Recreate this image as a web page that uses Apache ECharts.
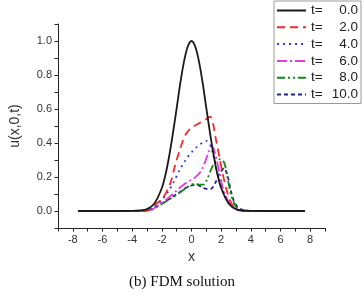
<!DOCTYPE html>
<html>
<head>
<meta charset="utf-8">
<script src="https://cdn.jsdelivr.net/npm/echarts@6/dist/echarts.min.js"></script>
<style>
html, body { margin: 0; padding: 0; background: #fff; }
#chart { width: 364px; height: 296px; }
</style>
</head>
<body>
<div id="chart"></div>
<script>
// values, [x, u] pairs
var t0 = [[-7.65,0],[-5,0],[-4,0.0005],[-3.5,0.003],[-3,0.011],[-2.5,0.044],[-2,0.135],[-1.75,0.215],[-1.5,0.325],
  [-1.25,0.458],[-1,0.605],[-0.75,0.755],[-0.5,0.882],[-0.25,0.968],[0,1.0],[0.25,0.968],[0.5,0.882],[0.75,0.755],
  [1,0.605],[1.25,0.458],[1.5,0.325],[1.75,0.215],[2,0.135],[2.5,0.044],[3,0.011],[3.5,0.003],[4,0.0005],[5,0],[7.65,0]];
var t2 = [[-7.65,0],[-4,0],[-3.2,0.003],[-2.8,0.008],[-2.4,0.04],[-2.0,0.07],[-1.7,0.11],[-1.4,0.17],[-1.1,0.27],
  [-0.75,0.37],[-0.4,0.45],[0,0.49],[0.4,0.51],[0.9,0.535],[1.25,0.555],[1.45,0.515],[1.65,0.42],[1.9,0.31],
  [2.1,0.22],[2.35,0.13],[2.6,0.06],[2.9,0.02],[3.3,0.003],[4,0],[7.65,0]];
var t4 = [[-7.65,0],[-4,0],[-3.2,0.002],[-2.8,0.006],[-2.4,0.03],[-2.0,0.065],[-1.6,0.11],[-1.2,0.17],[-0.8,0.24],
  [-0.4,0.30],[0,0.345],[0.4,0.38],[0.8,0.405],[1.0,0.412],[1.25,0.39],[1.45,0.335],[1.7,0.24],[1.95,0.16],
  [2.2,0.10],[2.5,0.05],[2.8,0.02],[3.1,0.006],[3.5,0.001],[4.2,0],[7.65,0]];
var t6 = [[-7.65,0],[-4,0],[-3.0,0.003],[-2.6,0.012],[-2.2,0.035],[-1.8,0.06],[-1.4,0.09],[-1.0,0.12],[-0.6,0.15],
  [-0.2,0.175],[0.2,0.195],[0.6,0.23],[0.9,0.285],[1.15,0.345],[1.35,0.38],[1.5,0.365],[1.7,0.30],[1.9,0.22],
  [2.1,0.14],[2.35,0.08],[2.6,0.04],[2.9,0.013],[3.3,0.002],[4.2,0],[7.65,0]];
var t8 = [[-7.65,0],[-4,0],[-3.0,0.003],[-2.6,0.01],[-2.2,0.03],[-1.8,0.052],[-1.4,0.073],[-1.0,0.095],[-0.6,0.12],
  [-0.2,0.145],[0.2,0.16],[0.5,0.155],[0.8,0.155],[1.05,0.185],[1.3,0.24],[1.6,0.29],[1.95,0.305],[2.2,0.285],
  [2.4,0.21],[2.6,0.12],[2.8,0.06],[3.0,0.025],[3.4,0.005],[4.2,0],[7.65,0]];
var t10 = [[-7.65,0],[-4,0],[-3.2,0.003],[-2.8,0.01],[-2.4,0.025],[-2.0,0.045],[-1.6,0.065],[-1.2,0.088],[-0.8,0.11],
  [-0.4,0.135],[0,0.15],[0.35,0.155],[0.7,0.14],[1.0,0.13],[1.3,0.13],[1.6,0.165],[1.9,0.22],[2.2,0.252],
  [2.45,0.2],[2.65,0.12],[2.85,0.06],[3.1,0.025],[3.5,0.005],[4.2,0],[7.65,0]];

var names = ['0.0', '2.0', '4.0', '6.0', '8.0', '10.0'];
var curves = [t0, t2, t4, t6, t8, t10];
var colors = ['#1a1a1a', '#f22a2a', '#3c3ce6', '#e03ce0', '#138a13', '#23238f'];
var dashes = ['solid', [8, 5], [2, 4], [10, 3, 2, 3], [8, 3, 2, 3, 2, 3], [4, 3]];

var chart = echarts.init(document.getElementById('chart'));

var series = [];
for (var i = 0; i < curves.length; i++) {
	series.push({
		name: 't=' + names[i],
		type: 'line',
		data: curves[i],
		smooth: 0.3,
		symbol: 'none',
		z: 10 - i,
		lineStyle: { color: colors[i], width: 1.8, type: dashes[i] },
		itemStyle: { color: colors[i] }
	});
}

chart.setOption({
	animation: false,
	textStyle: { fontFamily: 'Liberation Sans' },
	grid: { left: 53, right: 39, top: 24, bottom: 68, containLabel: false },
	legend: {
		right: 3, top: 1,
		orient: 'vertical',
		itemWidth: 29, itemHeight: 14, itemGap: 2.8,
		padding: [2.5, 3, 2, 2],
		borderColor: '#999', borderWidth: 1,
		itemStyle: { opacity: 0, color: 'rgba(0,0,0,0)', borderWidth: 0 },
		formatter: function (n) {
			return '{a|t=}{b|' + n.slice(2) + '}';
		},
		textStyle: {
			rich: {
				a: { fontSize: 13.5, color: '#222', width: 13, fontFamily: 'Liberation Sans' },
				b: { fontSize: 13.5, color: '#222', width: 34, align: 'right', fontFamily: 'Liberation Sans' }
			}
		},
		data: names.map(function (n) { return 't=' + n; })
	},
	xAxis: {
		type: 'value', min: -9, max: 9, interval: 1,
		name: 'x', nameLocation: 'middle', nameGap: 22,
		nameTextStyle: { fontSize: 14, color: '#333', fontFamily: 'Liberation Sans' },
		axisLine: { onZero: false, lineStyle: { color: '#222', width: 1 } },
		axisTick: { inside: false, length: 3.5, lineStyle: { color: '#222' } },
		axisLabel: {
			fontSize: 11, color: '#333', margin: 6,
			formatter: function (v) { return Math.round(v) % 2 === 0 ? String(Math.round(v)) : ''; }
		},
		splitLine: { show: false }
	},
	yAxis: {
		type: 'value', min: -0.1, max: 1.1, interval: 0.1,
		name: 'u(x,0,t)', nameLocation: 'middle', nameGap: 36,
		nameTextStyle: { fontSize: 14, color: '#333', fontFamily: 'Liberation Sans' },
		axisLine: { show: true, onZero: false, lineStyle: { color: '#222', width: 1 } },
		axisTick: { show: true, inside: false, length: 3.5, lineStyle: { color: '#222' } },
		axisLabel: {
			fontSize: 11, color: '#333', margin: 6,
			formatter: function (v) {
				var k = Math.round(v * 10);
				if (k < 0 || k > 10 || k % 2 !== 0) return '';
				return (k / 10).toFixed(1);
			}
		},
		splitLine: { show: false }
	},
	graphic: [{
		type: 'text', left: 'center', top: 275,
		style: { text: '(b) FDM solution', font: '15px "Liberation Serif"', fill: '#111' }
	}],
	series: series
});
</script>
</body>
</html>
